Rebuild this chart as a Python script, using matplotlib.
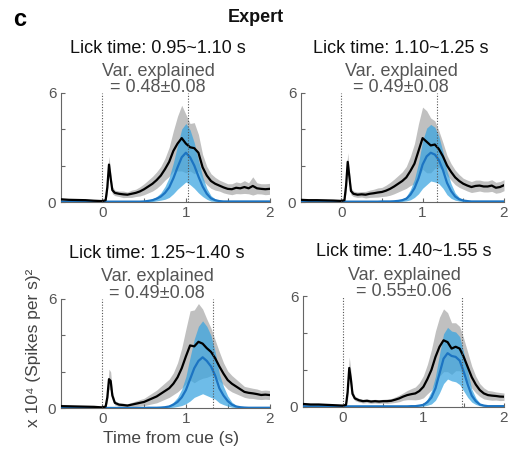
import numpy as np
import matplotlib
matplotlib.use("Agg")
import matplotlib.pyplot as plt

plt.rcParams['font.family'] = ['Liberation Sans', 'DejaVu Sans']

# shared time axis (s from cue)
TIME = [-0.5, -0.4, -0.3, -0.2, -0.1, 0.0,
        0.04, 0.06, 0.08, 0.10, 0.12, 0.15,
        0.20, 0.25, 0.30, 0.35, 0.40, 0.45, 0.50, 0.55,
        0.60, 0.65, 0.70, 0.75, 0.80, 0.85, 0.90, 0.95,
        1.00, 1.05, 1.10, 1.15, 1.20, 1.25, 1.30, 1.35,
        1.40, 1.45, 1.50, 1.55, 1.60, 1.65, 1.70, 1.75,
        1.80, 1.85, 1.90, 1.95, 2.00]

LICK_BINS = ["0.95~1.10", "1.10~1.25", "1.25~1.40", "1.40~1.55"]
LICK_MEAN = [1.025, 1.175, 1.325, 1.475]
VAR_EXPL = ["0.48±0.08", "0.49±0.08", "0.49±0.08", "0.55±0.06"]

# black: data, gray band = +-sd
blk1 = [0.15, 0.12, 0.11, 0.10, 0.07, 0.05,
        0.10, 0.80, 2.05, 1.30, 0.65, 0.50,
        0.45, 0.42, 0.40, 0.45, 0.50, 0.58, 0.70, 0.85,
        1.00, 1.20, 1.45, 1.80, 2.20, 2.80, 3.20, 3.50,
        3.20, 3.00, 2.95, 2.70, 1.90, 1.45, 1.15, 1.00,
        0.90, 0.80, 0.72, 0.70, 0.78, 0.75, 0.82, 0.75,
        0.88, 0.75, 0.72, 0.70, 0.72]
blk1_sd = [0.05, 0.05, 0.05, 0.05, 0.05, 0.05,
           0.08, 0.35, 0.45, 0.35, 0.20, 0.15,
           0.15, 0.18, 0.15, 0.20, 0.20, 0.25, 0.30, 0.35,
           0.40, 0.45, 0.50, 0.60, 0.80, 1.10, 1.50, 1.80,
           1.60, 1.30, 1.40, 1.00, 0.70, 0.50, 0.40, 0.35,
           0.30, 0.30, 0.28, 0.30, 0.32, 0.30, 0.35, 0.30,
           0.50, 0.30, 0.28, 0.30, 0.30]
blk2 = [0.12, 0.10, 0.10, 0.09, 0.08, 0.06,
        0.10, 0.90, 2.20, 1.40, 0.60, 0.45,
        0.40, 0.42, 0.40, 0.45, 0.48, 0.52, 0.55, 0.62,
        0.72, 0.85, 1.00, 1.15, 1.35, 1.70, 2.10, 2.80,
        3.50, 3.30, 3.10, 3.15, 2.90, 2.50, 2.00, 1.65,
        1.35, 1.15, 1.00, 0.90, 0.82, 0.88, 0.90, 0.85,
        0.85, 0.90, 0.78, 0.82, 0.92]
blk2_sd = [0.05, 0.05, 0.05, 0.05, 0.05, 0.05,
           0.08, 0.40, 0.50, 0.35, 0.20, 0.15,
           0.15, 0.15, 0.18, 0.20, 0.22, 0.25, 0.25, 0.30,
           0.35, 0.40, 0.45, 0.50, 0.60, 0.80, 1.10, 1.50,
           1.70, 1.70, 1.50, 1.30, 1.00, 0.75, 0.55, 0.45,
           0.40, 0.35, 0.30, 0.30, 0.30, 0.32, 0.30, 0.30,
           0.30, 0.32, 0.30, 0.30, 0.30]
blk3 = [0.12, 0.11, 0.10, 0.09, 0.08, 0.05,
        0.10, 0.60, 1.60, 1.50, 0.70, 0.30,
        0.20, 0.18, 0.15, 0.20, 0.25, 0.30, 0.35, 0.45,
        0.55, 0.65, 0.80, 0.95, 1.10, 1.35, 1.70, 2.20,
        2.85, 3.45, 3.40, 3.65, 3.55, 3.30, 3.10, 2.75,
        2.30, 1.90, 1.55, 1.35, 1.20, 1.05, 0.90, 0.85,
        0.82, 0.78, 0.73, 0.75, 0.73]
blk3_sd = [0.05, 0.05, 0.05, 0.05, 0.05, 0.05,
           0.08, 0.30, 0.55, 0.50, 0.25, 0.12,
           0.10, 0.10, 0.10, 0.12, 0.15, 0.18, 0.20, 0.25,
           0.30, 0.35, 0.40, 0.45, 0.50, 0.60, 0.80, 1.10,
           1.50, 1.90, 2.00, 2.10, 1.90, 1.60, 1.30, 1.00,
           0.80, 0.60, 0.50, 0.45, 0.40, 0.35, 0.30, 0.30,
           0.28, 0.28, 0.25, 0.25, 0.25]
blk4 = [0.15, 0.12, 0.12, 0.10, 0.08, 0.06,
        0.10, 0.80, 2.10, 1.50, 0.70, 0.45,
        0.35, 0.30, 0.32, 0.28, 0.30, 0.28, 0.30, 0.30,
        0.32, 0.38, 0.45, 0.55, 0.63, 0.68, 0.72, 0.85,
        1.08, 1.50, 2.00, 2.70, 3.25, 3.60, 3.50, 3.15,
        3.25, 3.15, 2.70, 2.15, 1.60, 1.20, 0.90, 0.72,
        0.63, 0.60, 0.58, 0.55, 0.54]
blk4_sd = [0.05, 0.05, 0.05, 0.05, 0.05, 0.05,
           0.08, 0.40, 0.60, 0.45, 0.20, 0.12,
           0.10, 0.10, 0.10, 0.10, 0.10, 0.10, 0.10, 0.12,
           0.12, 0.15, 0.18, 0.20, 0.25, 0.30, 0.35, 0.45,
           0.60, 0.80, 1.10, 1.40, 1.60, 1.70, 1.60, 1.40,
           1.30, 1.20, 1.00, 0.80, 0.60, 0.45, 0.35, 0.30,
           0.25, 0.25, 0.22, 0.22, 0.20]

# blue: model, light blue band = +-sd
blu1 = [0.02, 0.02, 0.02, 0.02, 0.02, 0.02,
        0.02, 0.02, 0.02, 0.02, 0.02, 0.02,
        0.02, 0.02, 0.02, 0.02, 0.02, 0.02, 0.03, 0.06,
        0.10, 0.18, 0.30, 0.50, 0.80, 1.30, 1.90, 2.45,
        2.70, 2.45, 2.00, 1.40, 0.85, 0.45, 0.20, 0.10,
        0.05, 0.03, 0.03, 0.03, 0.03, 0.03, 0.03, 0.03,
        0.03, 0.03, 0.03, 0.03, 0.03]
blu1_sd = [0.01, 0.01, 0.01, 0.01, 0.01, 0.01,
           0.01, 0.01, 0.01, 0.01, 0.01, 0.01,
           0.01, 0.01, 0.01, 0.01, 0.02, 0.02, 0.03, 0.05,
           0.08, 0.12, 0.20, 0.35, 0.55, 0.85, 1.20, 1.55,
           1.60, 1.50, 1.25, 0.90, 0.55, 0.30, 0.15, 0.07,
           0.04, 0.02, 0.02, 0.02, 0.02, 0.02, 0.02, 0.02,
           0.02, 0.02, 0.02, 0.02, 0.02]
blu2 = [0.02, 0.02, 0.02, 0.02, 0.02, 0.02,
        0.02, 0.02, 0.02, 0.02, 0.02, 0.02,
        0.02, 0.02, 0.02, 0.02, 0.02, 0.02, 0.03, 0.03,
        0.03, 0.04, 0.06, 0.10, 0.18, 0.40, 0.75, 1.30,
        2.05, 2.50, 2.70, 2.60, 2.30, 1.75, 1.05, 0.60,
        0.30, 0.15, 0.08, 0.05, 0.03, 0.03, 0.03, 0.03,
        0.03, 0.03, 0.03, 0.03, 0.03]
blu2_sd = [0.01, 0.01, 0.01, 0.01, 0.01, 0.01,
           0.01, 0.01, 0.01, 0.01, 0.01, 0.01,
           0.01, 0.01, 0.01, 0.01, 0.01, 0.01, 0.02, 0.02,
           0.02, 0.03, 0.04, 0.07, 0.12, 0.28, 0.50, 0.85,
           1.30, 1.55, 1.55, 1.50, 1.30, 1.00, 0.65, 0.40,
           0.20, 0.10, 0.05, 0.03, 0.02, 0.02, 0.02, 0.02,
           0.02, 0.02, 0.02, 0.02, 0.02]
blu3 = [0.02, 0.02, 0.02, 0.02, 0.02, 0.02,
        0.02, 0.02, 0.02, 0.02, 0.02, 0.02,
        0.02, 0.02, 0.02, 0.02, 0.02, 0.02, 0.02, 0.03,
        0.03, 0.03, 0.04, 0.06, 0.10, 0.20, 0.35, 0.60,
        1.00, 1.60, 2.20, 2.60, 2.80, 2.60, 2.30, 1.80,
        1.10, 0.70, 0.40, 0.20, 0.10, 0.06, 0.04, 0.03,
        0.03, 0.03, 0.03, 0.03, 0.03]
blu3_sd = [0.01, 0.01, 0.01, 0.01, 0.01, 0.01,
           0.01, 0.01, 0.01, 0.01, 0.01, 0.01,
           0.01, 0.01, 0.01, 0.01, 0.01, 0.01, 0.01, 0.02,
           0.02, 0.02, 0.03, 0.04, 0.07, 0.14, 0.25, 0.45,
           0.75, 1.20, 1.60, 1.90, 2.00, 1.90, 1.70, 1.30,
           0.80, 0.50, 0.28, 0.14, 0.07, 0.04, 0.03, 0.02,
           0.02, 0.02, 0.02, 0.02, 0.02]
blu4 = [0.02, 0.02, 0.02, 0.02, 0.02, 0.02,
        0.02, 0.02, 0.02, 0.02, 0.02, 0.02,
        0.02, 0.02, 0.02, 0.02, 0.02, 0.02, 0.02, 0.02,
        0.02, 0.02, 0.02, 0.02, 0.02, 0.03, 0.03, 0.06,
        0.10, 0.25, 0.50, 1.00, 1.80, 2.60, 2.90, 2.75,
        2.70, 2.50, 1.90, 1.20, 0.60, 0.30, 0.12, 0.06,
        0.03, 0.03, 0.03, 0.03, 0.03]
blu4_sd = [0.01, 0.01, 0.01, 0.01, 0.01, 0.01,
           0.01, 0.01, 0.01, 0.01, 0.01, 0.01,
           0.01, 0.01, 0.01, 0.01, 0.01, 0.01, 0.01, 0.01,
           0.01, 0.01, 0.01, 0.01, 0.01, 0.02, 0.02, 0.04,
           0.07, 0.17, 0.35, 0.65, 1.05, 1.35, 1.40, 1.35,
           1.35, 1.30, 1.05, 0.70, 0.35, 0.18, 0.07, 0.04,
           0.02, 0.02, 0.02, 0.02, 0.02]

BLACK = [blk1, blk2, blk3, blk4]
BLACK_SD = [blk1_sd, blk2_sd, blk3_sd, blk4_sd]
BLUE = [blu1, blu2, blu3, blu4]
BLUE_SD = [blu1_sd, blu2_sd, blu3_sd, blu4_sd]

W, H = 509, 454
fig = plt.figure(figsize=(W / 100, H / 100), dpi=100)


def fx(px):
    return px / W


def fy(px):
    return 1 - px / H


# axes boxes in pixels: left, right, top, bottom
boxes = [(60.5, 269.5, 92.5, 202), (300.5, 504, 92.5, 202),
         (60.5, 269.5, 299, 408.3), (302.5, 504, 296, 406.7)]
# title positions in pixels: x centre, y of the three lines
title_x = [158, 401, 157, 404]
title_y = [(48.5, 71.5, 88), (48.5, 71.5, 88), (253, 276.5, 293), (252, 275.5, 292)]

t = np.array(TIME)
for i, (l, r, top, bot) in enumerate(boxes):
    ax = fig.add_axes([fx(l), fy(bot), fx(r - l), (bot - top) / H])
    b = np.array(BLACK[i])
    bsd = np.array(BLACK_SD[i])
    m = np.array(BLUE[i])
    msd = np.array(BLUE_SD[i])
    ax.fill_between(t, b - bsd, b + bsd, color='#c0c0c0', lw=0, zorder=1)
    ax.fill_between(t, np.clip(m - msd, 0, None), m + msd, color='#36a3e0',
                    alpha=0.72, lw=0, zorder=2)
    ax.plot(t, m, color='#1c74c2', lw=1.6, zorder=3)
    ax.plot(t, b, color='black', lw=1.6, zorder=4)
    for xv in (0, LICK_MEAN[i]):
        ax.axvline(xv, color='#555555', ls=(0, (1, 1.5)), lw=0.8, zorder=5,
                   clip_on=False)

    ax.set_xlim(-0.5, 2)
    ax.set_ylim(0, 6)
    ax.set_xticks([-0.5, 0, 0.5, 1, 1.5, 2])
    ax.set_xticklabels(['', '0', '', '1', '', '2'])
    ax.set_yticks([0, 2, 4, 6])
    ax.set_yticklabels(['0', '', '', '6'])
    for s in ('top', 'right'):
        ax.spines[s].set_visible(False)
    for s in ('left', 'bottom'):
        ax.spines[s].set_color('#666666')
        ax.spines[s].set_linewidth(0.8)
    ax.tick_params(direction='in', length=3, width=0.8, color='#666666',
                   labelcolor='#555555', labelsize=11, pad=3)
    ax.patch.set_alpha(0)

    cx = fx(title_x[i])
    y1, y2, y3 = title_y[i]
    fig.text(cx, fy(y1), f"Lick time: {LICK_BINS[i]} s", ha='center',
             va='center', fontsize=13, color='#111111')
    fig.text(cx, fy(y2), "Var. explained", ha='center', va='center',
             fontsize=13, color='#555555')
    fig.text(cx, fy(y3), f"= {VAR_EXPL[i]}", ha='center', va='center',
             fontsize=13, color='#555555')

fig.text(fx(20), fy(19), "c", fontsize=17, fontweight='bold', ha='center',
         va='center')
fig.text(fx(256), fy(17), "Expert", fontsize=13, fontweight='bold',
         ha='center', va='center', color='#111111')
fig.text(fx(171), fy(439), "Time from cue (s)", fontsize=12.5, ha='center',
         va='center', color='#444444')
fig.text(fx(34), fy(348), "x 10⁴ (Spikes per s)²", fontsize=12.5,
         rotation=90, ha='center', va='center', color='#444444')

fig.savefig("out.png", dpi=100)
